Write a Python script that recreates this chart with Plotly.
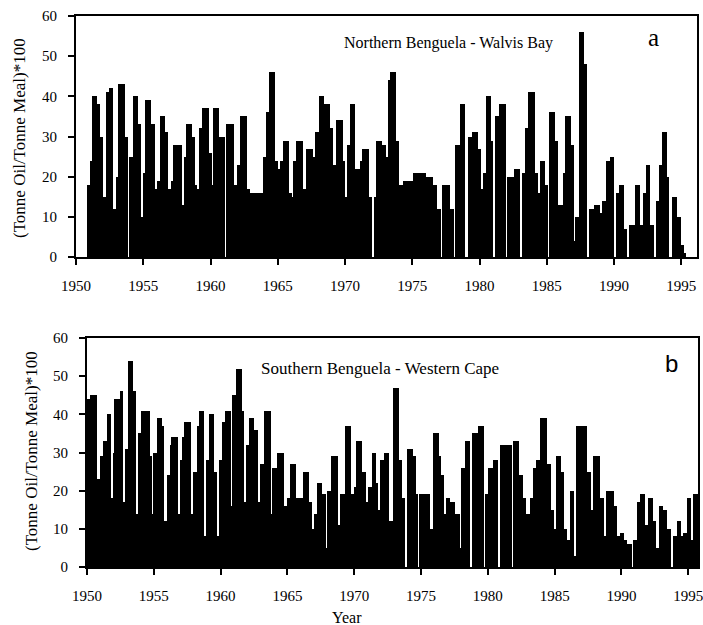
import plotly.graph_objects as go

years = list(range(1950, 1996))
tick_years = [1950, 1955, 1960, 1965, 1970, 1975, 1980, 1985, 1990, 1995]
y_ticks = [0, 10, 20, 30, 40, 50, 60]

# Monthly oil/meal ratio (x100), Northern Benguela - Walvis Bay, one row per year
walvis = [
    [0, 0, 0, 0, 0, 0, 0, 0, 0, 0, 18, 18],          # 1950
    [18, 24, 24, 40, 40, 40, 38, 38, 38, 30, 30, 30],
    [15, 15, 15, 41, 41, 41, 42, 42, 42, 12, 12, 12],
    [20, 20, 43, 43, 43, 43, 43, 30, 30, 30, 0, 0],
    [25, 25, 25, 40, 40, 40, 40, 33, 33, 33, 10, 10],
    [21, 21, 39, 39, 39, 39, 39, 33, 33, 33, 17, 17],  # 1955
    [17, 19, 19, 35, 35, 35, 35, 31, 31, 31, 17, 17],
    [17, 19, 19, 28, 28, 28, 28, 28, 28, 28, 13, 13],
    [13, 25, 25, 33, 33, 33, 33, 30, 30, 30, 18, 18],
    [17, 17, 32, 32, 32, 37, 37, 37, 37, 37, 26, 26],
    [26, 18, 18, 37, 37, 37, 37, 30, 30, 30, 30, 30],  # 1960
    [30, 0, 33, 33, 33, 33, 33, 33, 33, 18, 18, 18],
    [23, 23, 23, 35, 35, 35, 35, 35, 17, 17, 17, 16],
    [16, 16, 16, 16, 16, 16, 16, 16, 16, 16, 16, 25],
    [25, 25, 36, 36, 36, 46, 46, 46, 46, 24, 24, 24],
    [22, 22, 24, 24, 24, 29, 29, 29, 29, 29, 16, 16],  # 1965
    [15, 15, 24, 24, 24, 29, 29, 29, 29, 29, 17, 17],
    [17, 17, 27, 27, 27, 27, 27, 25, 25, 25, 31, 31],
    [31, 40, 40, 40, 40, 38, 38, 38, 38, 38, 32, 32],
    [32, 23, 23, 23, 34, 34, 34, 34, 34, 34, 24, 24],
    [15, 15, 28, 28, 28, 38, 38, 38, 38, 22, 22, 22],  # 1970
    [22, 22, 24, 24, 27, 27, 27, 27, 27, 15, 15, 15],
    [0, 0, 15, 15, 29, 29, 29, 29, 29, 28, 28, 28],
    [25, 25, 25, 44, 44, 46, 46, 46, 46, 29, 29, 29],
    [18, 18, 18, 18, 19, 19, 19, 19, 19, 19, 19, 19],
    [15, 21, 21, 21, 21, 21, 21, 21, 21, 21, 21, 21],  # 1975
    [0, 20, 20, 20, 20, 20, 18, 18, 18, 18, 12, 12],
    [12, 0, 0, 18, 18, 18, 18, 18, 18, 12, 12, 12],
    [12, 0, 0, 28, 28, 28, 28, 38, 38, 38, 38, 0],
    [0, 0, 30, 30, 30, 30, 31, 31, 31, 31, 27, 27],
    [27, 17, 17, 17, 21, 21, 40, 40, 40, 40, 29, 29],  # 1980
    [0, 0, 35, 35, 35, 35, 38, 38, 38, 38, 38, 0],
    [0, 20, 20, 20, 20, 20, 20, 22, 22, 22, 22, 22],
    [0, 0, 21, 21, 21, 32, 32, 32, 41, 41, 41, 41],
    [41, 21, 21, 21, 16, 16, 24, 24, 24, 24, 18, 18],
    [18, 0, 36, 36, 36, 36, 36, 29, 29, 29, 13, 13],  # 1985
    [13, 13, 13, 21, 21, 35, 35, 35, 35, 28, 28, 28],
    [4, 4, 10, 10, 10, 56, 56, 56, 56, 48, 48, 48],
    [0, 0, 12, 12, 12, 12, 12, 13, 13, 13, 13, 11],
    [11, 11, 14, 14, 14, 24, 24, 24, 24, 25, 25, 25],
    [0, 0, 16, 16, 16, 18, 18, 18, 18, 7, 7, 0],       # 1990
    [0, 0, 8, 8, 8, 8, 8, 18, 18, 18, 18, 8],
    [8, 8, 16, 16, 16, 23, 23, 23, 8, 8, 8, 0],
    [0, 0, 14, 14, 14, 23, 23, 31, 31, 31, 31, 20],
    [20, 0, 0, 0, 15, 15, 15, 15, 10, 10, 10, 3],
    [3, 3, 1, 1, 0, 0, 0, 0, 0, 0, 0, 0],              # 1995
]

# Monthly oil/meal ratio (x100), Southern Benguela - Western Cape
wcape = [
    [44, 44, 44, 45, 45, 45, 45, 45, 45, 23, 23, 23],  # 1950
    [29, 29, 29, 33, 33, 33, 40, 40, 40, 18, 18, 18],
    [30, 44, 44, 44, 44, 44, 46, 46, 17, 17, 17, 31],
    [31, 54, 54, 54, 54, 46, 46, 46, 14, 14, 35, 35],
    [35, 41, 41, 41, 41, 41, 41, 41, 29, 29, 14, 14],
    [30, 30, 30, 39, 39, 39, 39, 37, 37, 12, 12, 12],  # 1955
    [24, 24, 24, 32, 34, 34, 34, 34, 34, 14, 14, 14],
    [28, 28, 34, 34, 38, 38, 38, 38, 38, 14, 14, 14],
    [25, 25, 25, 37, 37, 41, 41, 41, 41, 8, 8, 28],
    [28, 28, 40, 40, 40, 40, 25, 25, 8, 8, 8, 28],
    [28, 28, 38, 38, 41, 41, 41, 41, 41, 16, 16, 45],  # 1960
    [45, 45, 52, 52, 52, 52, 52, 41, 41, 17, 17, 32],
    [32, 32, 39, 39, 39, 39, 36, 36, 36, 17, 17, 17],
    [27, 27, 27, 41, 41, 41, 41, 41, 41, 14, 14, 26],
    [26, 26, 26, 30, 30, 30, 30, 30, 30, 16, 16, 16],
    [18, 18, 18, 27, 27, 27, 27, 18, 18, 18, 18, 18],  # 1965
    [18, 18, 25, 25, 25, 25, 25, 17, 17, 17, 10, 10],
    [14, 14, 14, 22, 22, 22, 22, 19, 19, 19, 5, 5],
    [20, 20, 20, 20, 29, 29, 29, 29, 29, 11, 11, 11],
    [19, 19, 19, 19, 37, 37, 37, 37, 37, 19, 19, 19],
    [21, 21, 33, 33, 33, 33, 33, 25, 25, 25, 17, 17],  # 1970
    [17, 21, 21, 21, 30, 30, 30, 22, 22, 15, 15, 15],
    [28, 28, 28, 30, 30, 30, 30, 12, 12, 12, 12, 47],
    [47, 47, 47, 47, 28, 28, 28, 18, 18, 0, 0, 0],
    [31, 31, 31, 31, 29, 29, 29, 19, 19, 0, 0, 19],
    [19, 19, 19, 19, 19, 19, 19, 19, 10, 10, 10, 35],  # 1975
    [35, 35, 35, 35, 29, 29, 24, 24, 14, 14, 14, 18],
    [18, 18, 17, 17, 17, 17, 14, 14, 14, 14, 14, 5],
    [26, 26, 26, 26, 33, 33, 33, 33, 0, 0, 35, 35],
    [35, 35, 35, 35, 37, 37, 37, 37, 0, 0, 19, 19],
    [19, 26, 26, 26, 26, 28, 28, 28, 28, 0, 0, 32],    # 1980
    [32, 32, 32, 32, 32, 32, 32, 32, 32, 0, 0, 33],
    [33, 33, 33, 33, 24, 24, 24, 18, 18, 18, 14, 14],
    [14, 14, 18, 18, 18, 26, 26, 26, 28, 28, 28, 39],
    [39, 39, 39, 39, 39, 27, 27, 27, 15, 15, 15, 10],
    [10, 10, 29, 29, 29, 25, 25, 25, 10, 10, 10, 7],   # 1985
    [7, 7, 20, 20, 20, 3, 3, 3, 37, 37, 37, 37],
    [37, 37, 37, 37, 37, 25, 25, 25, 15, 15, 15, 29],
    [29, 29, 29, 29, 18, 18, 18, 18, 8, 8, 8, 20],
    [20, 20, 20, 20, 20, 16, 16, 16, 8, 8, 8, 9],
    [9, 9, 7, 7, 7, 6, 6, 6, 6, 0, 0, 7],              # 1990
    [7, 7, 17, 17, 17, 19, 19, 19, 19, 11, 11, 11],
    [18, 18, 18, 18, 12, 12, 12, 5, 5, 5, 16, 16],
    [16, 15, 15, 15, 15, 10, 10, 10, 0, 0, 0, 8],
    [8, 8, 12, 12, 12, 8, 8, 8, 9, 9, 9, 18],
    [18, 18, 7, 7, 7, 19, 19, 19, 7, 7, 7, 7],         # 1995
]


def flatten(rows):
    xs, ys = [], []
    for yr, row in zip(years, rows):
        for m, v in enumerate(row):
            xs.append(yr + (m + 0.5) / 12.0)
            ys.append(v)
    return xs, ys


xa, ya = flatten(walvis)
xb, yb = flatten(wcape)

W, H = 703, 625
SERIF = "Liberation Serif, Times New Roman, serif"

fig = go.Figure()
fig.add_trace(go.Bar(x=xa, y=ya, width=1 / 12.0, marker=dict(color="black", line=dict(width=0)),
                     xaxis="x", yaxis="y", showlegend=False))
fig.add_trace(go.Bar(x=xb, y=yb, width=1 / 12.0, marker=dict(color="black", line=dict(width=0)),
                     xaxis="x2", yaxis="y2", showlegend=False))

axis_common = dict(showline=True, linecolor="black", linewidth=2, mirror=True,
                   ticks="outside", ticklen=6, tickwidth=2, tickcolor="black",
                   showgrid=False, zeroline=False, automargin=False,
                   ticklabeloverflow="allow",
                   tickfont=dict(family=SERIF, size=15, color="black"))


def px_x(p):
    return p / W


def px_y(p):
    return 1 - p / H


fig.update_layout(
    width=W, height=H,
    margin=dict(l=0, r=0, t=0, b=0),
    paper_bgcolor="white", plot_bgcolor="white",
    bargap=0,
    xaxis=dict(domain=[px_x(76), px_x(697)], range=[1950, 1996.17], anchor="y",
               tickvals=tick_years, ticklabelstandoff=8, **axis_common),
    yaxis=dict(domain=[px_y(257), px_y(16)], range=[0, 60], anchor="x",
               tickvals=y_ticks, ticklabelstandoff=8, **axis_common),
    xaxis2=dict(domain=[px_x(87), px_x(698)], range=[1950, 1995.73], anchor="y2",
                tickvals=tick_years, ticklabelstandoff=8, **axis_common),
    yaxis2=dict(domain=[px_y(567), px_y(338)], range=[0, 60], anchor="x2",
                tickvals=y_ticks, ticklabelstandoff=8, **axis_common),
)

ann = [
    dict(text="(Tonne Oil/Tonne Meal)*100", x=px_x(19), y=px_y(138), textangle=-90,
         font=dict(family=SERIF, size=17, color="black")),
    dict(text="(Tonne Oil/Tonne Meal)*100", x=px_x(31), y=px_y(451), textangle=-90,
         font=dict(family=SERIF, size=17, color="black")),
    dict(text="Northern Benguela - Walvis Bay", x=px_x(448), y=px_y(43),
         font=dict(family=SERIF, size=16, color="black")),
    dict(text="a", x=px_x(653), y=px_y(38),
         font=dict(family=SERIF, size=25, color="black")),
    dict(text="Southern Benguela - Western Cape", x=px_x(380), y=px_y(368),
         font=dict(family=SERIF, size=17, color="black")),
    dict(text="b", x=px_x(671), y=px_y(363),
         font=dict(family="Liberation Sans, Arial, sans-serif", size=24, color="black")),
    dict(text="Year", x=px_x(347), y=px_y(617),
         font=dict(family=SERIF, size=16, color="black")),
]
for a in ann:
    a.update(xref="paper", yref="paper", showarrow=False, xanchor="center", yanchor="middle")
fig.update_layout(annotations=ann)

fig.write_html("out.html")
